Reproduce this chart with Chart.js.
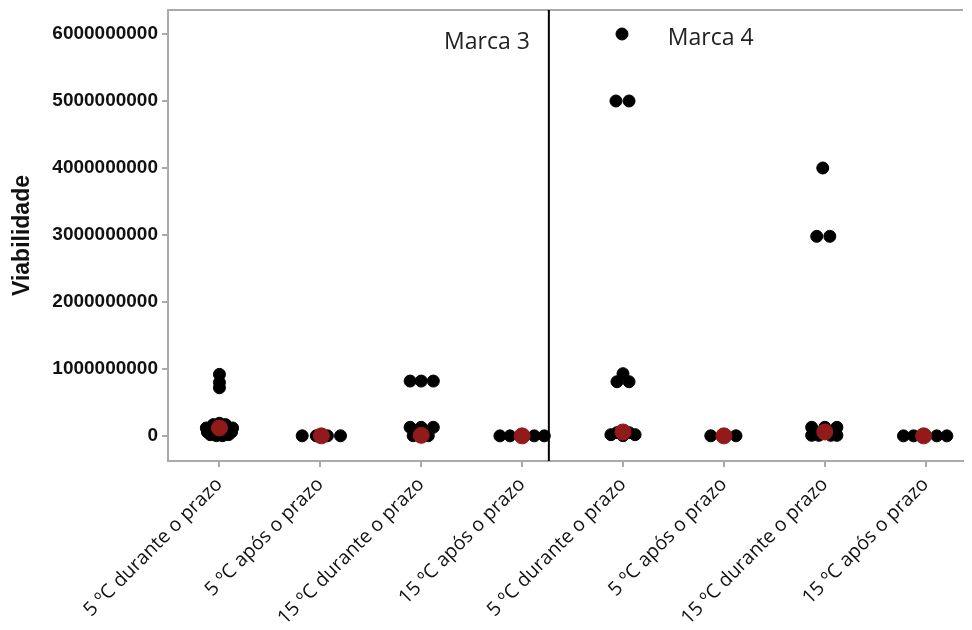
<!DOCTYPE html>
<html>
<head>
<meta charset="utf-8">
<script src="https://cdn.jsdelivr.net/npm/chart.js@4.4.1/dist/chart.umd.min.js"></script>
<style>
  html, body { margin: 0; padding: 0; background: #fff; }
  #wrap { width: 972px; height: 630px; position: relative; }
</style>
</head>
<body>
<div id="wrap"><canvas id="chart"></canvas></div>
<script>
// ---- data ----
const categories = [
  '5 ºC durante o prazo', '5 ºC após o prazo', '15 ºC durante o prazo', '15 ºC após o prazo',
  '5 ºC durante o prazo', '5 ºC após o prazo', '15 ºC durante o prazo', '15 ºC após o prazo'
];
const panels = ['Marca 3', 'Marca 4'];
const yTicks = [0, 1e9, 2e9, 3e9, 4e9, 5e9, 6e9];

// each point: [jitter offset within category, value]
const m3Dur5 = [
  [0, 0.92e9], [0, 0.80e9], [0, 0.72e9],
  [0, 0.19e9], [-0.06, 0.17e9], [0.06, 0.17e9], [-0.13, 0.12e9], [0.13, 0.12e9],
  [-0.12, 0.06e9], [0.12, 0.06e9], [-0.09, 0.02e9], [0.09, 0.02e9], [-0.03, 0.005e9], [0.03, 0.005e9]
];
const m3Apos5 = [[-0.18, 0.003e9], [-0.04, 0.003e9], [0.07, 0.003e9], [0.2, 0.003e9]];
const m3Dur15 = [
  [-0.11, 0.82e9], [0, 0.82e9], [0.12, 0.82e9],
  [-0.11, 0.13e9], [0, 0.13e9], [0.12, 0.13e9], [-0.08, 0.005e9], [0.07, 0.005e9]
];
const m3Apos15 = [[-0.22, 0.002e9], [-0.12, 0.002e9], [0, 0.002e9], [0.12, 0.002e9], [0.22, 0.002e9]];
const m4Dur5 = [
  [-0.01, 6.0e9], [-0.07, 5.0e9], [0.06, 5.0e9],
  [0, 0.93e9], [-0.06, 0.81e9], [0.06, 0.81e9],
  [-0.06, 0.05e9], [0.06, 0.05e9], [-0.12, 0.02e9], [0.12, 0.02e9], [0, 0.005e9]
];
const m4Apos5 = [[-0.13, 0.003e9], [0, 0.003e9], [0.12, 0.003e9]];
const m4Dur15 = [
  [-0.02, 4.0e9], [-0.08, 2.98e9], [0.05, 2.98e9],
  [-0.13, 0.13e9], [0, 0.13e9], [0.12, 0.13e9],
  [-0.13, 0.01e9], [-0.06, 0.01e9], [0.06, 0.01e9], [0.12, 0.01e9]
];
const m4Apos15 = [[-0.22, 0.002e9], [-0.12, 0.002e9], [0, 0.002e9], [0.11, 0.002e9], [0.21, 0.002e9]];

const groups = [m3Dur5, m3Apos5, m3Dur15, m3Apos15, m4Dur5, m4Apos5, m4Dur15, m4Apos15];

// red summary markers
const meanOffsets = [0, 0.01, 0, 0, 0, 0, 0, -0.02];
const meanValues = [0.12e9, 0.002e9, 0.01e9, 0.002e9, 0.06e9, 0.002e9, 0.06e9, 0.002e9];

const panelSplit = 3.265;   // divider between the two brands (x units)

// ---- build datasets ----
const pointData = groups.flatMap((g, i) => g.map(([dx, v]) => ({ x: i + dx, y: v })));
const meanData = meanValues.map((v, i) => ({ x: i + meanOffsets[i], y: v }));

const TEXT_FONT = "'Open Sans', 'Noto Sans', sans-serif";
const AXIS_FONT = "'Liberation Sans', Arial, sans-serif";

// top border, divider and panel labels
const panelPlugin = {
  id: 'panels',
  afterDraw(chart) {
    const { ctx, chartArea, scales } = chart;
    ctx.save();
    ctx.strokeStyle = '#aaaaaa';
    ctx.lineWidth = 2;
    ctx.beginPath();
    ctx.moveTo(chartArea.left, chartArea.top);
    ctx.lineTo(chartArea.right, chartArea.top);
    ctx.stroke();

    const xs = scales.x.getPixelForValue(panelSplit);
    ctx.strokeStyle = '#000';
    ctx.lineWidth = 2;
    ctx.beginPath();
    ctx.moveTo(xs, chartArea.top);
    ctx.lineTo(xs, chartArea.bottom);
    ctx.stroke();

    ctx.fillStyle = '#222';
    ctx.font = '23px ' + TEXT_FONT;
    ctx.textBaseline = 'middle';
    ctx.textAlign = 'right';
    ctx.fillText(panels[0], xs - 19, chartArea.top + 32);
    ctx.textAlign = 'left';
    ctx.fillText(panels[1], xs + 119, chartArea.top + 28);
    ctx.restore();
  }
};

new Chart(document.getElementById('chart'), {
  type: 'scatter',
  data: {
    datasets: [
      {
        label: 'Marcas',
        data: meanData,
        backgroundColor: '#921a1a',
        borderColor: '#921a1a',
        pointRadius: 8,
        pointHoverRadius: 8,
        order: 0
      },
      {
        label: 'Viabilidade',
        data: pointData,
        backgroundColor: '#000',
        borderColor: '#000',
        pointRadius: 6,
        pointHoverRadius: 6,
        order: 1
      }
    ]
  },
  options: {
    responsive: true,
    maintainAspectRatio: false,
    animation: false,
    devicePixelRatio: 1,
    layout: { padding: { top: 10, left: 0, right: 0, bottom: 0 } },
    plugins: {
      legend: { display: false },
      tooltip: { enabled: false }
    },
    scales: {
      x: {
        type: 'linear',
        min: -0.51,
        max: 7.37,
        afterBuildTicks: s => { s.ticks = categories.map((c, i) => ({ value: i })); },
        afterFit: s => { s.height = 169; s.paddingLeft = 0; s.paddingRight = 0; },
        border: { color: '#aaaaaa', width: 2 },
        grid: { drawOnChartArea: false, color: '#aaaaaa', lineWidth: 2, tickLength: 6 },
        ticks: {
          autoSkip: false,
          minRotation: 45,
          maxRotation: 45,
          padding: 6,
          color: '#111',
          font: { family: TEXT_FONT, size: 19.5 },
          callback: v => categories[v]
        }
      },
      y: {
        min: -0.373e9,
        max: 6.358e9,
        afterBuildTicks: s => { s.ticks = yTicks.map(v => ({ value: v })); },
        afterFit: s => { s.width = 168; s.paddingTop = 0; s.paddingBottom = 0; },
        border: { color: '#aaaaaa', width: 2 },
        grid: { drawOnChartArea: false, color: '#aaaaaa', lineWidth: 2, tickLength: 6 },
        ticks: {
          padding: 4,
          color: '#111',
          font: { family: AXIS_FONT, size: 19, weight: 'bold' },
          callback: v => Math.round(v).toString()
        },
        title: {
          display: true,
          text: 'Viabilidade',
          color: '#111',
          font: { family: AXIS_FONT, size: 23, weight: 'bold' },
          padding: { top: 9, bottom: 0 }
        }
      }
    }
  },
  plugins: [panelPlugin]
});
</script>
</body>
</html>
